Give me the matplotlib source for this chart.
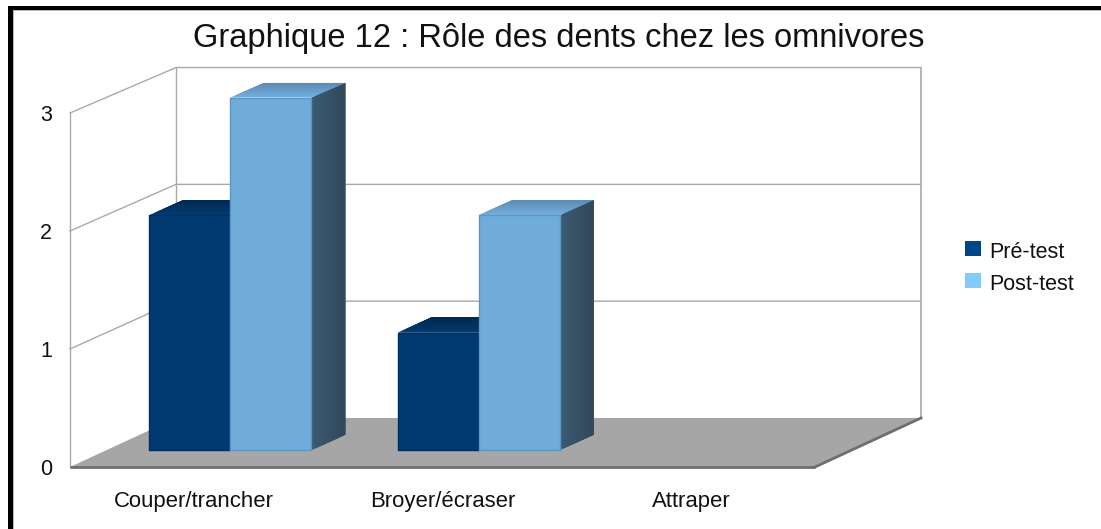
import matplotlib
matplotlib.use('Agg')
import matplotlib.pyplot as plt
from matplotlib.colors import to_rgb
from matplotlib.patches import Polygon, Rectangle

plt.rcParams['font.family'] = ['Liberation Sans', 'DejaVu Sans']

title = 'Graphique 12 : Rôle des dents chez les omnivores'
categories = ['Couper/trancher', 'Broyer/écraser', 'Attraper']
series_names = ['Pré-test', 'Post-test']
pre_test = [2, 1, 0]
post_test = [3, 2, 0]
y_ticks = [0, 1, 2, 3]

W, H = 1101, 529
# depth direction: how far the back wall is from the front, in data units
DX = 106 / 248.3
DY = 49 / 118
SHRINK = 0.01
BAR_W = 81 / 248.3
BAR_D0 = 0.34
BAR_D1 = 0.66

dark = '#003a70'
dark_edge = '#002f5c'
dark_top = ('#002a52', '#003a70')
light = '#70acda'
light_edge = '#5f97c2'
light_top = ('#5d8db5', '#72addc')
side = ('#3a5a72', '#33495c')
grid_col = '#a9a9a9'


def proj(x, y, d):
    return (x + d * DX, y * (1 - SHRINK * d) + d * DY)


def mix(c0, c1, t):
    a, b = to_rgb(c0), to_rgb(c1)
    return tuple(a[k] + (b[k] - a[k]) * t for k in range(3))


fig = plt.figure(figsize=(W / 100, H / 100), dpi=100)
fig.patch.set_facecolor('white')
ax = fig.add_axes([70 / W, 1 - 467 / H, 745 / W, 354 / H])
ax.set_xlim(0, len(categories))
ax.set_ylim(0, 3)
ax.patch.set_visible(False)
for s in ax.spines.values():
    s.set_visible(False)

nc = len(categories)

# floor
ax.add_patch(Polygon([proj(0, 0, 0), proj(nc, 0, 0), proj(nc, 0, 1), proj(0, 0, 1)],
                     fc='#a6a6a6', ec='none', clip_on=False, zorder=1))
ax.plot([0, nc], [0, 0], color='#6e6e6e', lw=2, clip_on=False, zorder=2, solid_capstyle='butt')
ax.plot(*zip(proj(nc, 0, 0), proj(nc, 0, 1)), color='#6e6e6e', lw=2, clip_on=False, zorder=2)

# walls and gridlines
for v in y_ticks[1:]:
    ax.plot(*zip(proj(0, v, 0), proj(0, v, 1), proj(nc, v, 1)), color=grid_col, lw=1,
            clip_on=False, zorder=1)
ax.plot(*zip(proj(0, 0, 0), proj(0, 3, 0)), color=grid_col, lw=1, clip_on=False, zorder=1)
ax.plot(*zip(proj(0, 0, 1), proj(0, 3, 1)), color=grid_col, lw=1, clip_on=False, zorder=1)
ax.plot(*zip(proj(nc, 0, 1), proj(nc, 3, 1)), color=grid_col, lw=1.2, clip_on=False, zorder=1)


def bar3d(x0, v, front, edge, top, z):
    if v <= 0:
        return
    x1 = x0 + BAR_W
    # side and top get a soft shading: each slice runs to the back and covers the last one
    n = 8
    for k in range(n):
        d0 = BAR_D0 + (BAR_D1 - BAR_D0) * k / n
        c = mix(side[0], side[1], k / (n - 1))
        ax.add_patch(Polygon([proj(x1, 0, d0), proj(x1, 0, BAR_D1), proj(x1, v, BAR_D1), proj(x1, v, d0)],
                             fc=c, ec='none', clip_on=False, zorder=z))
        c = mix(top[1], top[0], k / (n - 1))
        ax.add_patch(Polygon([proj(x0, v, d0), proj(x1, v, d0), proj(x1, v, BAR_D1), proj(x0, v, BAR_D1)],
                             fc=c, ec='none', clip_on=False, zorder=z))
    ax.add_patch(Polygon([proj(x0, 0, BAR_D0), proj(x1, 0, BAR_D0), proj(x1, v, BAR_D0), proj(x0, v, BAR_D0)],
                         fc=front, ec=edge, lw=1, joinstyle='round', clip_on=False, zorder=z + 0.1))


for i in range(nc):
    x_left = i + 0.5 - BAR_W
    bar3d(x_left, pre_test[i], dark, dark_edge, dark_top, 3 + i)
    bar3d(x_left + BAR_W, post_test[i], light, light_edge, light_top, 3.5 + i)

ax.set_xticks([i + 0.5 for i in range(nc)])
ax.set_xticklabels(categories, fontsize=15.9, color='#111111')
ax.set_yticks(y_ticks)
ax.set_yticklabels(y_ticks, fontsize=15.5, color='#111111')
ax.tick_params(axis='both', length=0)
ax.tick_params(axis='x', pad=17)
ax.tick_params(axis='y', pad=13)

fig.text(559 / W, 1 - 39 / H, title, ha='center', va='center', fontsize=23.5, color='#111111')

# legend
handles = [Rectangle((0, 0), 1, 1, fc='#004586'), Rectangle((0, 0), 1, 1, fc='#83caff')]
leg = fig.legend(handles, series_names, loc='upper left', bbox_to_anchor=(965 / W, 1 - 240 / H),
                 frameon=False, fontsize=15.5, handlelength=0.74, handleheight=0.74, handletextpad=0.37,
                 labelspacing=0.52, borderpad=0, borderaxespad=0, labelcolor='#111111')
for t in leg.get_texts():
    t.set_position((0, -2))

# black frame around the picture, with its thin grey inner line
fig.add_artist(Rectangle((8 / W, 0), 5.5 / W, 1 - 6 / H, transform=fig.transFigure, fc='#b5b5b5', ec='none'))
fig.add_artist(Rectangle((8 / W, 1 - 11 / H), 1 - 8 / W, 5 / H, transform=fig.transFigure, fc='#b5b5b5', ec='none'))
fig.add_artist(Rectangle((8 / W, 0), 4.5 / W, 1 - 6 / H, transform=fig.transFigure, fc='black', ec='none'))
fig.add_artist(Rectangle((8 / W, 1 - 10 / H), 1 - 8 / W, 4 / H, transform=fig.transFigure, fc='black', ec='none'))

fig.savefig('out.png', dpi=100)
plt.close(fig)
